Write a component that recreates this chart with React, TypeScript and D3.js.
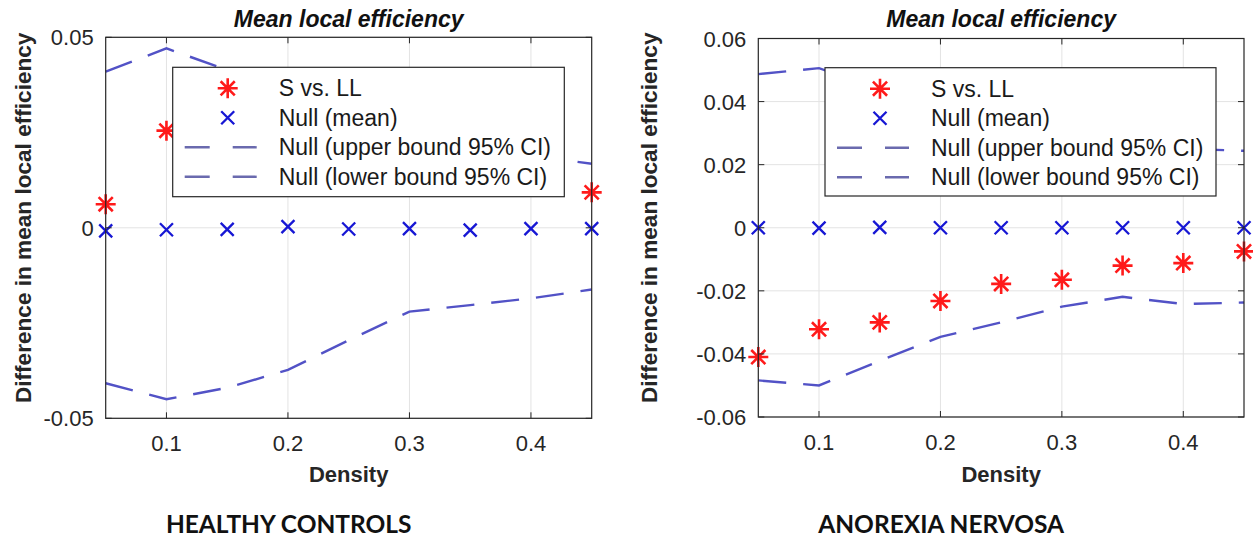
import React from 'react';
import * as d3 from 'd3';

const WIDTH = 1253;
const HEIGHT = 539;

// density values shared by both panels
const density = [0.05, 0.1, 0.15, 0.2, 0.25, 0.3, 0.35, 0.4, 0.45];
const xTicks = [0.1, 0.2, 0.3, 0.4];

// healthy controls
const hcObserved = [0.0062, 0.0255, 0.028, 0.024, 0.02, 0.016, 0.015, 0.013, 0.0093];
const hcNullMean = [-0.0008, -0.0005, -0.0004, 0.0003, -0.0003, -0.0002, -0.0006, -0.0002, -0.0002];
const hcUpper = [0.041, 0.0471, 0.0414, 0.037, 0.029, 0.023, 0.0205, 0.019, 0.0168];
const hcLower = [-0.0408, -0.045, -0.042, -0.0373, -0.0295, -0.022, -0.0203, -0.0185, -0.0162];
const hcYTicks = [-0.05, 0, 0.05];

// anorexia nervosa
const anObserved = [-0.041, -0.0322, -0.03, -0.0232, -0.0178, -0.0165, -0.012, -0.0112, -0.0075];
const anNullMean = [0, -0.0001, 0.0001, 0, 0, 0, 0, 0, 0];
const anUpper = [0.0487, 0.0506, 0.044, 0.037, 0.031, 0.027, 0.025, 0.025, 0.0244];
const anLower = [-0.0484, -0.05, -0.0422, -0.0346, -0.03, -0.025, -0.0219, -0.0242, -0.0237];
const anYTicks = [-0.06, -0.04, -0.02, 0, 0.02, 0.04, 0.06];

const legendLabels = ['S vs. LL', 'Null (mean)', 'Null (upper bound 95% CI)', 'Null (lower bound 95% CI)'];

const AXIS = '#262626';
const GRID = '#e3e3e3';
const RED = '#ff1a1a';
const BLUE = '#1717d4';
const LINE = '#5252c6';
const FONT = '"Liberation Sans", Arial, Helvetica, sans-serif';

const Star = ({ x, y }: { x: number; y: number }) => {
  const r = 10;
  const d = r * 0.7071;
  return (
    <path
      d={`M${x},${y - r}V${y + r}M${x - r},${y}H${x + r}M${x - d},${y - d}L${x + d},${y + d}M${x - d},${y + d}L${x + d},${y - d}`}
      stroke={RED}
      strokeWidth={2.6}
      fill="none"
    />
  );
};

const Cross = ({ x, y }: { x: number; y: number }) => {
  const h = 6.5;
  return (
    <path
      d={`M${x - h},${y - h}L${x + h},${y + h}M${x - h},${y + h}L${x + h},${y - h}`}
      stroke={BLUE}
      strokeWidth={2.3}
      fill="none"
    />
  );
};

type PanelProps = {
  left: number;
  right: number;
  top: number;
  bottom: number;
  yDomain: [number, number];
  yTicks: number[];
  observed: number[];
  nullMean: number[];
  upper: number[];
  lower: number[];
  yLabelX: number;
  legend: { x: number; y: number; w: number; h: number };
  group: string;
};

const Panel = (p: PanelProps) => {
  const x = d3.scaleLinear().domain([0.05, 0.45]).range([p.left, p.right]);
  const y = d3.scaleLinear().domain(p.yDomain).range([p.bottom, p.top]);
  const line = d3
    .line<number>()
    .x((_, i) => x(density[i]))
    .y((d) => y(d));
  const cx = (p.left + p.right) / 2;
  const cy = (p.top + p.bottom) / 2 - 10;
  const tickLen = 6;
  const lg = p.legend;

  return (
    <g>
      {/* grid */}
      {xTicks.map((t) => (
        <line key={'gx' + t} x1={x(t)} x2={x(t)} y1={p.top} y2={p.bottom} stroke={GRID} strokeWidth={1} />
      ))}
      {p.yTicks.map((t) => (
        <line key={'gy' + t} x1={p.left} x2={p.right} y1={y(t)} y2={y(t)} stroke={GRID} strokeWidth={1} />
      ))}

      {/* CI bounds */}
      <path d={line(p.upper) || ''} fill="none" stroke={LINE} strokeWidth={2.4} strokeDasharray="28,17" />
      <path d={line(p.lower) || ''} fill="none" stroke={LINE} strokeWidth={2.4} strokeDasharray="28,17" />

      {/* markers */}
      {p.nullMean.map((v, i) => (
        <Cross key={'n' + i} x={x(density[i])} y={y(v)} />
      ))}
      {p.observed.map((v, i) => (
        <Star key={'s' + i} x={x(density[i])} y={y(v)} />
      ))}

      {/* box and ticks */}
      <rect x={p.left} y={p.top} width={p.right - p.left} height={p.bottom - p.top} fill="none" stroke={AXIS} strokeWidth={1.2} />
      {xTicks.map((t) => (
        <g key={'tx' + t}>
          <line x1={x(t)} x2={x(t)} y1={p.bottom} y2={p.bottom - tickLen} stroke={AXIS} />
          <line x1={x(t)} x2={x(t)} y1={p.top} y2={p.top + tickLen} stroke={AXIS} />
          <text x={x(t)} y={p.bottom + 33} textAnchor="middle" fontSize={22} fill={AXIS} fontFamily={FONT}>
            {String(t)}
          </text>
        </g>
      ))}
      {p.yTicks.map((t) => (
        <g key={'ty' + t}>
          <line x1={p.left} x2={p.left + tickLen} y1={y(t)} y2={y(t)} stroke={AXIS} />
          <line x1={p.right} x2={p.right - tickLen} y1={y(t)} y2={y(t)} stroke={AXIS} />
          <text x={p.left - 12} y={y(t) + 8} textAnchor="end" fontSize={22} fill={AXIS} fontFamily={FONT}>
            {String(t)}
          </text>
        </g>
      ))}

      {/* labels */}
      <text x={cx} y={27} textAnchor="middle" fontSize={23} fontWeight="bold" fontStyle="italic" fill="#111" fontFamily={FONT}>
        Mean local efficiency
      </text>
      <text x={cx} y={482} textAnchor="middle" fontSize={22} fontWeight="bold" fill={AXIS} fontFamily={FONT}>
        Density
      </text>
      <text
        transform={`translate(${p.yLabelX},${cy}) rotate(-90)`}
        textAnchor="middle"
        fontSize={22.6}
        fontWeight="bold"
        fill={AXIS}
        fontFamily={FONT}
      >
        Difference in mean local efficiency
      </text>

      {/* legend */}
      <rect x={lg.x} y={lg.y} width={lg.w} height={lg.h} fill="#fff" stroke={AXIS} strokeWidth={1.2} />
      {legendLabels.map((label, i) => {
        const ry = lg.y + 21 + i * 29.5;
        return (
          <g key={label}>
            {i === 0 && <Star x={lg.x + 55} y={ry} />}
            {i === 1 && <Cross x={lg.x + 55} y={ry} />}
            {i > 1 && (
              <line x1={lg.x + 12} x2={lg.x + 84} y1={ry} y2={ry} stroke="#6a6aae" strokeWidth={2.4} strokeDasharray="25,23" />
            )}
            <text x={lg.x + 106} y={ry + 8} fontSize={23} fill="#1a1a1a" fontFamily={FONT}>
              {label}
            </text>
          </g>
        );
      })}

      <text x={cx - 60} y={533} textAnchor="middle" fontSize={24.5} fontWeight={700} fill="#111" fontFamily="Lato, 'Open Sans', sans-serif">
        {p.group}
      </text>
    </g>
  );
};

const App = () => {
  return (
    <svg
      width={WIDTH}
      height={HEIGHT}
      style={{ position: 'absolute', left: 0, top: 0, background: '#fff' }}
    >
      <Panel
        left={105.7}
        right={591.7}
        top={37.3}
        bottom={418.3}
        yDomain={[-0.05, 0.05]}
        yTicks={hcYTicks}
        observed={hcObserved}
        nullMean={hcNullMean}
        upper={hcUpper}
        lower={hcLower}
        yLabelX={31}
        legend={{ x: 172.7, y: 67.3, w: 391.6, h: 129.4 }}
        group="HEALTHY CONTROLS"
      />
      <Panel
        left={758.3}
        right={1244}
        top={38.5}
        bottom={417}
        yDomain={[-0.06, 0.06]}
        yTicks={anYTicks}
        observed={anObserved}
        nullMean={anNullMean}
        upper={anUpper}
        lower={anLower}
        yLabelX={657}
        legend={{ x: 825, y: 67.7, w: 391, h: 128.3 }}
        group="ANOREXIA NERVOSA"
      />
    </svg>
  );
};

export default App;
